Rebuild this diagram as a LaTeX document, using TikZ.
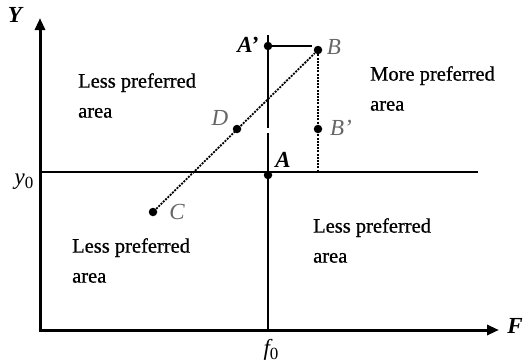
\documentclass[tikz,border=0pt]{standalone}
\usepackage{fontspec}
\setmainfont{Liberation Serif}
\newfontfamily\areafont[FakeBold=0.8]{Liberation Serif}
\usetikzlibrary{arrows.meta}
\newcommand{\subz}{\raisebox{-0.35ex}{\fontsize{17}{17}\selectfont\upshape 0}}
\begin{document}
\begin{tikzpicture}[x=1pt,y=-1pt,
  axis/.style={line width=3pt,-{Triangle[length=12pt,width=10pt]}},
  pt/.style={circle,fill=black,inner sep=0pt,minimum size=8.5pt},
  area/.style={font=\areafont\fontsize{20.5}{30}\selectfont,align=left,anchor=north west,inner sep=0pt},
  lab/.style={font=\fontsize{23}{23}\selectfont\itshape,inner sep=0pt},
  blab/.style={lab,font=\fontsize{23}{23}\selectfont\bfseries\itshape},
  glab/.style={lab,text=black!60},
  dots/.style={line width=1.8pt,dash pattern=on 2pt off 1.2pt}]
\useasboundingbox (0,0) rectangle (525,364);
\coordinate (O) at (40,330);
\coordinate (Ytop) at (40,18);
\coordinate (Xend) at (499,330);
\coordinate (Y0l) at (40,172);
\coordinate (Y0r) at (478,172);
\coordinate (Vt) at (268,35);
\coordinate (Vg1) at (268,128);
\coordinate (Vg2) at (268,133);
\coordinate (Vb) at (268,330);
\coordinate (Bfoot) at (318,172);
\draw[line width=1.8pt] (Y0l) -- (Y0r);
\draw[line width=2.4pt] (Vt) -- (Vg1);
\draw[line width=2.4pt] (Vg2) -- (Vb);
\draw[axis] (O) -- (Ytop);
\draw[axis] ([xshift=-1.5pt]O) -- (Xend);
\node[pt] (Ap) at (268,46) {};
\node[pt] (B) at (318,50) {};
\node[pt] (Bp) at (318,129) {};
\node[pt] (D) at (237,129) {};
\node[pt] (C) at (153,212) {};
\node[pt] (A) at (268,175) {};
\draw[line width=1.8pt] (Ap.center) -- (312,46);
\draw[dots] (C) -- (B);
\draw[dots] (B) -- (Bfoot);
\node[blab] (lY) at (15,15) {Y};
\node[blab] (lF) at (515,326) {F};
\node[lab] (lf0) at (271,350) {f\subz};
\node[lab] (ly0) at (24,182) {y\subz};
\node[blab] (lAp) at (248,45) {A'};
\node[blab] (lA) at (283,160) {A};
\node[glab] (lB) at (334,47) {B};
\node[glab] (lBp) at (341,128) {B'};
\node[glab] (lD) at (220,118) {D};
\node[glab] (lC) at (177,212) {C};
\node[area] (a1) at (78,73) {Less preferred\\area};
\node[area] (a2) at (370,66) {More preferred\\area};
\node[area] (a3) at (72,238) {Less preferred\\area};
\node[area] (a4) at (313,218) {Less preferred\\area};
\end{tikzpicture}
\end{document}
